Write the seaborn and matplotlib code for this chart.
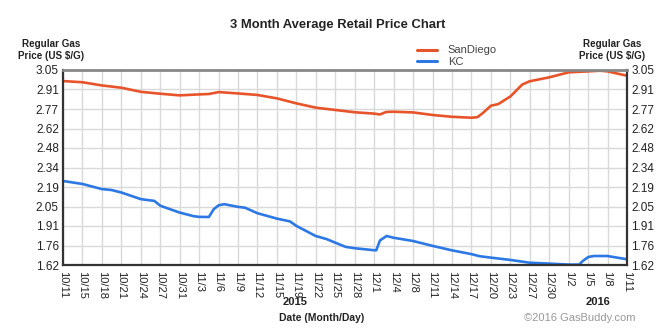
import numpy as np
import pandas as pd
import matplotlib
matplotlib.use("Agg")
import matplotlib.pyplot as plt
import seaborn as sns

# ---- data (x = days since 10/11/2015) ----
sd_days = [0, 3.2, 6.3, 9.5, 12.7, 15.9, 19.0, 22.2, 23.8, 25.4, 28.6, 31.7, 34.9,
           38.1, 41.2, 44.4, 47.6, 50.8, 51.7, 52.7, 53.9, 57.1, 60.3, 63.4, 66.6,
           67.6, 68.5, 69.8, 71.0, 73.0, 74.9, 76.1, 79.3, 82.5, 85.7, 87.6, 88.8, 92.0]
sd_vals = [2.969, 2.960, 2.937, 2.920, 2.890, 2.876, 2.864, 2.871, 2.874, 2.888, 2.878,
           2.867, 2.842, 2.805, 2.774, 2.757, 2.740, 2.730, 2.724, 2.742, 2.744, 2.739,
           2.720, 2.707, 2.700, 2.704, 2.735, 2.788, 2.800, 2.857, 2.943, 2.967, 2.996,
           3.033, 3.040, 3.045, 3.040, 3.008]

kc_days = [0, 3.2, 6.3, 7.9, 9.5, 12.7, 14.9, 15.9, 19.0, 21.3, 22.2, 23.8, 24.6, 25.4,
           26.3, 28.6, 29.7, 31.7, 34.9, 37.0, 38.1, 41.2, 43.0, 44.4, 46.1, 47.6, 50.8,
           51.1, 51.7, 52.8, 53.9, 57.1, 60.3, 63.4, 66.6, 68.0, 69.8, 73.0, 76.1, 79.3,
           82.5, 84.2, 84.8, 85.7, 86.6, 88.8, 92.0]
kc_vals = [2.236, 2.214, 2.177, 2.170, 2.152, 2.103, 2.090, 2.054, 2.005, 1.978, 1.973,
           1.972, 2.030, 2.058, 2.066, 2.046, 2.040, 2.000, 1.960, 1.940, 1.906, 1.833,
           1.810, 1.784, 1.753, 1.743, 1.728, 1.728, 1.800, 1.833, 1.820, 1.796, 1.760,
           1.728, 1.700, 1.684, 1.674, 1.657, 1.637, 1.630, 1.623, 1.623, 1.650, 1.679,
           1.686, 1.686, 1.662]

x_labels = ["10/11", "10/15", "10/18", "10/21", "10/24", "10/27", "10/31", "11/3", "11/6",
            "11/9", "11/12", "11/15", "11/19", "11/22", "11/25", "11/28", "12/1", "12/4",
            "12/8", "12/11", "12/14", "12/17", "12/20", "12/23", "12/27", "12/30", "1/2",
            "1/5", "1/8", "1/11"]
y_labels = ["1.62", "1.76", "1.91", "2.05", "2.19", "2.34", "2.48", "2.62", "2.77", "2.91", "3.05"]
series_names = ["SanDiego", "KC"]
colors = ["#e8542a", "#2c78e4"]

df = pd.concat([
    pd.DataFrame({"day": sd_days, "price": sd_vals, "city": series_names[0]}),
    pd.DataFrame({"day": kc_days, "price": kc_vals, "city": series_names[1]}),
])

sns.set_theme(style="white")
plt.rcParams["font.family"] = ["Liberation Sans", "DejaVu Sans"]

fig = plt.figure(figsize=(6.7, 3.32), dpi=100)
ax = fig.add_axes([63/670, 1-265/332, (627-63)/670, (265-70)/332])

sns.lineplot(data=df, x="day", y="price", hue="city", palette=colors,
             linewidth=1.9, ax=ax, legend=False)

xmin, xmax = 0, 92
ymin, ymax = 1.62, 3.05
ax.set_xlim(xmin, xmax)
ax.set_ylim(ymin, ymax)
ax.set_xticks(np.linspace(xmin, xmax, len(x_labels)))
ax.set_xticklabels(x_labels, rotation=-90, fontsize=8, color="#222222")
ax.set_yticks(np.linspace(ymin, ymax, len(y_labels)))
ax.set_yticklabels(y_labels, fontsize=8.5, color="#222222")
ax.tick_params(axis="y", which="both", length=0, pad=3, labelright=True, labelleft=True)
ax.tick_params(axis="x", length=0, pad=4)
ax.grid(True, color="#d9d9d9", linewidth=1.0)
ax.set_axisbelow(True)
ax.set_xlabel("")
ax.set_ylabel("")
for side in ["left", "bottom", "right"]:
    ax.spines[side].set_color("#333333")
    ax.spines[side].set_linewidth(1.6)
ax.spines["top"].set_color("#888888")
ax.spines["top"].set_linewidth(2.0)

# titles and texts
fig.text(338/670, 1-25/332, "3 Month Average Retail Price Chart", ha="center", va="center",
         fontsize=9.4, fontweight="bold", color="#222222")
fig.text(51/670, 1-50/332, "Regular Gas\nPrice (US $/G)", ha="center", va="center",
         fontsize=7.1, fontweight="bold", color="#222222", linespacing=1.15)
fig.text(612/670, 1-50/332, "Regular Gas\nPrice (US $/G)", ha="center", va="center",
         fontsize=7.1, fontweight="bold", color="#222222", linespacing=1.15)
fig.text(295/670, 1-302/332, "2015", ha="center", va="center", fontsize=8,
         fontweight="bold", color="#222222")
fig.text(598/670, 1-302/332, "2016", ha="center", va="center", fontsize=8,
         fontweight="bold", color="#222222")
fig.text(322/670, 1-318/332, "Date (Month/Day)", ha="center", va="center", fontsize=7.5,
         fontweight="bold", color="#222222")
fig.text(580/670, 1-318/332, "\u00a92016 GasBuddy.com", ha="center", va="center",
         fontsize=8, color="#999999")

# legend
handles = [plt.Line2D([0], [0], color=c, linewidth=2.2) for c in colors]
fig.legend(handles, series_names, loc="center left", bbox_to_anchor=(411/670, 1-56/332),
           frameon=False, fontsize=8, handlelength=1.8, handletextpad=1.0,
           labelspacing=0.1, labelcolor="#444444", borderpad=0)

fig.savefig("out.png", dpi=100)
